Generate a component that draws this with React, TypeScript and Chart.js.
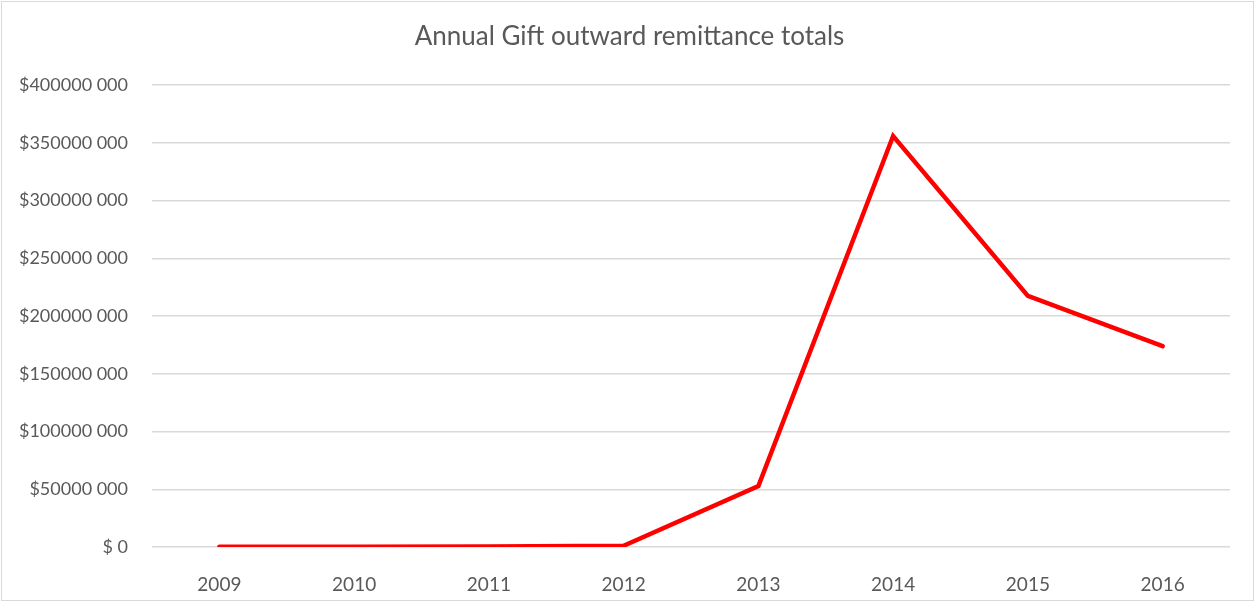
import React, { useEffect, useRef } from "react";
import { Chart, registerables } from "chart.js";

Chart.register(...registerables);

const years = ["2009", "2010", "2011", "2012", "2013", "2014", "2015", "2016"];
const giftTotals = [200000, 300000, 500000, 1100000, 52800000, 356000000, 217500000, 174000000];
const yMax = 400000000;
const yStep = 50000000;
const chartTitle = "Annual Gift outward remittance totals";

function formatDollar(v: number): string {
  if (v === 0) return "$ 0";
  const thousands = Math.floor(v / 1000);
  const rest = String(Math.round(v % 1000)).padStart(3, "0");
  return "$" + thousands + " " + rest;
}

export default function App() {
  const ref = useRef<HTMLCanvasElement | null>(null);
  useEffect(() => {
    if (!ref.current) return;
    const font = "Lato, 'Open Sans', sans-serif";
    const chart = new Chart(ref.current, {
      type: "line",
      data: {
        labels: years,
        datasets: [
          {
            label: "Gift",
            data: giftTotals,
            borderColor: "#ff0000",
            backgroundColor: "#ff0000",
            borderWidth: 4.5,
            pointRadius: 0,
            borderCapStyle: "round",
            borderJoinStyle: "miter",
            tension: 0,
            yAxisID: "y",
          },
        ],
      },
      options: {
        animation: false,
        responsive: false,
        maintainAspectRatio: false,
        layout: { padding: { left: 4, right: 0, top: 0, bottom: 0 } },
        plugins: {
          legend: { display: false },
          tooltip: { enabled: false },
          title: {
            display: true,
            text: chartTitle,
            color: "#595959",
            font: { family: font, size: 26, weight: "normal", lineHeight: 1.2 },
            padding: { top: 21, bottom: 33 },
          },
        },
        scales: {
          x: {
            offset: true,
            grid: { display: false },
            border: { display: false },
            ticks: {
              color: "#595959",
              font: { family: font, size: 19 },
              padding: 18,
              maxRotation: 0,
            },
            afterFit: (s: any) => {
              s.height = 55;
            },
          },
          y: {
            position: "left",
            min: 0,
            max: yMax,
            grid: { color: "#d9d9d9", lineWidth: 1.5, drawTicks: false },
            border: { display: false },
            ticks: {
              stepSize: yStep,
              color: "#595959",
              font: { family: font, size: 18 },
              padding: 24,
              callback: (v: any) => formatDollar(Number(v)),
            },
            afterFit: (s: any) => {
              s.width = 148;
            },
          },
          spacer: {
            type: "linear",
            position: "right",
            display: true,
            min: 0,
            max: 1,
            grid: { display: false, drawOnChartArea: false },
            border: { display: false },
            ticks: { display: false },
            afterFit: (s: any) => {
              s.width = 25;
            },
          },
        },
      },
    });
    return () => chart.destroy();
  }, []);
  return (
    <div
      style={{
        position: "fixed",
        left: 0,
        top: 0,
        width: 1255,
        height: 602,
        background: "#fff",
      }}
    >
      <canvas ref={ref} width={1255} height={602} style={{ display: "block" }} />
      <div
        style={{
          position: "absolute",
          left: 1,
          top: 1,
          width: 1251,
          height: 598,
          border: "1px solid #d9d9d9",
          pointerEvents: "none",
        }}
      />
    </div>
  );
}
